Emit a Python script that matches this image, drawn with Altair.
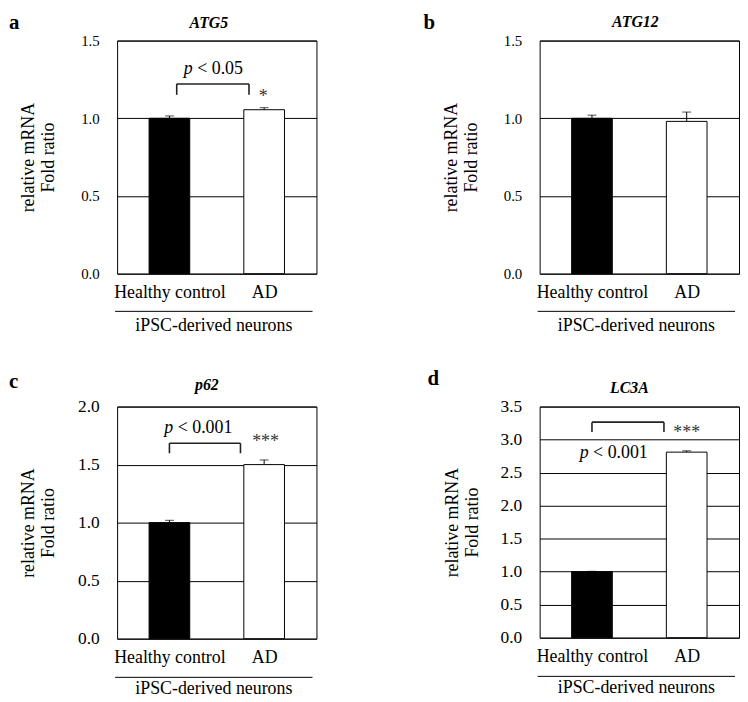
import altair as alt
import pandas as pd

FONT = "Liberation Serif"

groups = ["Healthy control", "AD"]
genes = ["ATG5", "ATG12", "p62", "LC3A"]
letters = ["a", "b", "c", "d"]

means = [[1.0, 1.055], [1.0, 0.98], [1.0, 1.5], [1.0, 2.81]]
errs = [[0.015, 0.013], [0.02, 0.06], [0.02, 0.04], [0.005, 0.02]]
y_max = [1.5, 1.5, 2.0, 3.5]
y_ticks = [[0, 0.5, 1.0, 1.5], [0, 0.5, 1.0, 1.5], [0, 0.5, 1.0, 1.5, 2.0],
           [0, 0.5, 1.0, 1.5, 2.0, 2.5, 3.0, 3.5]]

# significance annotations (x in bar-slot units: 0..2, bar centres at 0.5 and 1.5)
bracket_x1 = [0.577, None, 0.5, 0.5]
bracket_x2 = [1.34, None, 1.25, 1.26]
bracket_top = [1.221, None, 1.684, 3.264]
bracket_bottom = [1.151, None, 1.598, 3.114]
p_text = ["< 0.05", None, "< 0.001", "< 0.001"]
p_x = [0.746, None, 0.54, 0.465]
p_y = [1.285, None, 1.77, 2.72]
star_text = ["*", None, "***", "***"]
star_x = [1.49, None, 1.515, 1.50]
star_y = [1.105, None, 1.65, 3.03]

W = 201
heights = [235, 235, 234, 233]
tick_label_size = [15, 15, 17.5, 17.5]
letter_x = [-109, -117, -109, -113]
letter_y = [-29, -29, -36, -39]
gene_dx = [-8, -4, -10, -10]
gene_y = [-13, -14, -17, -14]
ytitle_x = [-84, -84, -84, -83]
xtitle_y = [57, 57, 55, 55]
under_y = [38, 38, 39, 39]

label_expr = "[" + ",".join("'" + g + "'" for g in groups) + "][floor(datum.value)]"


def panel(i):
    H = heights[i]
    df = pd.DataFrame({"group": groups, "mean": means[i], "err": errs[i]})
    df["pos"] = [k + 0.5 for k in range(len(groups))]
    df["top"] = df["mean"] + df["err"]
    yscale = alt.Scale(domain=[0, y_max[i]], nice=False, zero=True)
    xscale = alt.Scale(domain=[0, len(groups)], nice=False, zero=False)

    yaxis = alt.Axis(values=y_ticks[i], format=".1f", title=["relative mRNA", "Fold ratio"],
                     grid=True, gridColor="black", gridOpacity=1, gridWidth=1,
                     ticks=False, domain=False, labelFontSize=tick_label_size[i],
                     labelPadding=18, labelColor="black", labelFont=FONT,
                     titleFont=FONT, titleFontSize=18, titleFontWeight="normal",
                     titleColor="black", titleAngle=270, titleAlign="center",
                     titleBaseline="alphabetic", titleX=ytitle_x[i], titleY=H / 2,
                     titleLineHeight=20)
    xaxis = alt.Axis(values=list(df["pos"]), labelExpr=label_expr, title="iPSC-derived neurons",
                     labelAngle=0, ticks=False, domain=False, grid=False,
                     labelFontSize=18, labelPadding=10, labelColor="black",
                     labelFont=FONT, titleFont=FONT, titleFontSize=18,
                     titleFontWeight="normal", titleColor="black",
                     titleBaseline="alphabetic", titleY=xtitle_y[i], titleX=97)

    def X(f):
        return alt.X(f, scale=xscale, axis=xaxis)

    def Y(f):
        return alt.Y(f, scale=yscale, axis=yaxis)

    bars = alt.Chart(df).mark_bar(size=41, stroke="black", strokeWidth=1).encode(
        x=X("pos:Q"), y=Y("mean:Q"),
        color=alt.Color("group:N", scale=alt.Scale(domain=groups, range=["black", "white"]),
                        legend=None),
    )
    err_rule = alt.Chart(df).mark_rule(color="black", strokeWidth=1).encode(
        x=X("pos:Q"), y=Y("mean:Q"), y2="top:Q")
    cap = alt.Chart(df).mark_tick(color="black", size=9, thickness=1, orient="horizontal").encode(
        x=X("pos:Q"), y=Y("top:Q"))
    under = alt.Chart(pd.DataFrame({"k": [0]})).mark_rule(color="black", strokeWidth=1).encode(
        x=alt.value(-2), x2=alt.value(W - 4), y=alt.value(H + under_y[i]))
    letter = alt.Chart(pd.DataFrame({"t": [letters[i]]})).mark_text(
        font=FONT, fontSize=21, fontWeight="bold", align="left", baseline="top",
        color="black").encode(text="t:N", x=alt.value(letter_x[i]), y=alt.value(letter_y[i]))
    gene = alt.Chart(pd.DataFrame({"t": [genes[i]]})).mark_text(
        font=FONT, fontSize=16, fontWeight="bold", fontStyle="italic", align="center",
        baseline="alphabetic", color="black").encode(
        text="t:N", x=alt.value(W / 2 + gene_dx[i]), y=alt.value(gene_y[i]))

    layers = [bars, err_rule, cap, under, letter, gene]
    if p_text[i] is not None:
        seg = pd.DataFrame({
            "x1": [bracket_x1[i], bracket_x1[i], bracket_x2[i]],
            "x2": [bracket_x2[i], bracket_x1[i], bracket_x2[i]],
            "y1": [bracket_top[i], bracket_top[i], bracket_top[i]],
            "y2": [bracket_top[i], bracket_bottom[i], bracket_bottom[i]],
        })
        brk = alt.Chart(seg).mark_rule(color="#222222", strokeWidth=1.6).encode(
            x=X("x1:Q"), x2="x2:Q", y=Y("y1:Q"), y2="y2:Q")
        ann = pd.DataFrame({"x": [p_x[i]], "y": [p_y[i]], "t": [p_text[i]], "p": ["p"]})
        pl = alt.Chart(ann).mark_text(font=FONT, fontSize=18, fontStyle="italic", align="right",
                                      baseline="alphabetic", color="black").encode(
            x=X("x:Q"), y=Y("y:Q"), text="p:N")
        pr = alt.Chart(ann).mark_text(font=FONT, fontSize=18, align="left", dx=4.5,
                                      baseline="alphabetic", color="black").encode(
            x=X("x:Q"), y=Y("y:Q"), text="t:N")
        st = pd.DataFrame({"x": [star_x[i]], "y": [star_y[i]], "t": [star_text[i]]})
        star = alt.Chart(st).mark_text(font=FONT, fontSize=18, align="center",
                                       baseline="alphabetic", color="#333333").encode(
            x=X("x:Q"), y=Y("y:Q"), text="t:N")
        layers += [brk, pl, pr, star]

    return alt.layer(*layers).properties(width=W, height=H)


chart = alt.concat(*[panel(i) for i in range(4)], columns=2, spacing={"column": 225, "row": 134},
                   bounds="flush").properties(padding=0).configure(font=FONT).configure_view(
    stroke="black", strokeWidth=1)

chart.save("out.html", embed_options={"renderer": "svg", "actions": False})
